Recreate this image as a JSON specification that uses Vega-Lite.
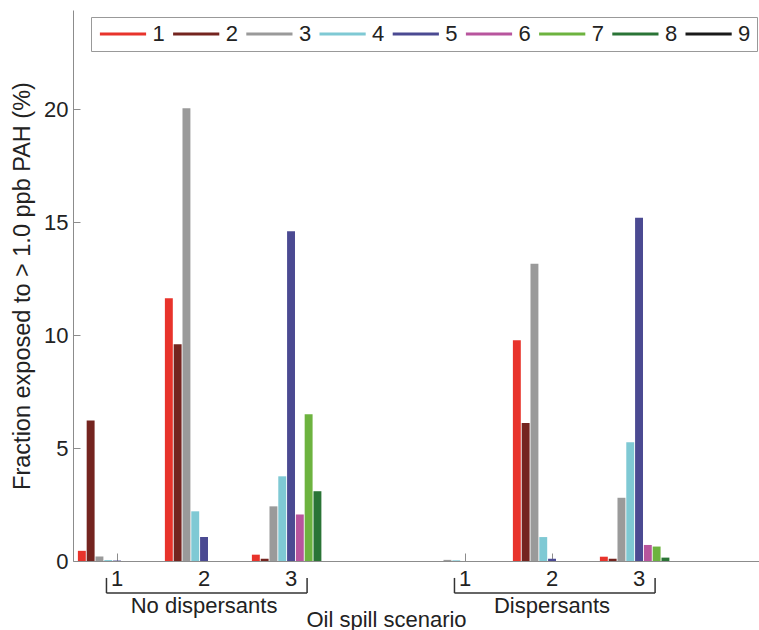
{
  "$schema": "https://vega.github.io/schema/vega-lite/v6.json",
  "width": 686,
  "height": 551,
  "autosize": {"type": "none"},
  "padding": {"left": 73, "top": 10, "right": 0, "bottom": 69},
  "config": {
    "view": {"stroke": null},
    "font": "Liberation Sans",
    "axis": {
      "domainColor": "#8c8c8c",
      "tickColor": "#8c8c8c",
      "labelColor": "#222222",
      "titleColor": "#222222",
      "labelFontSize": 22,
      "titleFontSize": 22,
      "titleFontWeight": "normal",
      "grid": false
    }
  },
  "datasets": {
    "bars": [
      {"slot": "N1", "series": "1", "value": 0.45},
      {"slot": "N1", "series": "2", "value": 6.22},
      {"slot": "N1", "series": "3", "value": 0.2},
      {"slot": "N1", "series": "4", "value": 0.04},
      {"slot": "N1", "series": "5", "value": 0.02},
      {"slot": "N1", "series": "6", "value": 0},
      {"slot": "N1", "series": "7", "value": 0},
      {"slot": "N1", "series": "8", "value": 0},
      {"slot": "N1", "series": "9", "value": 0},
      {"slot": "N2", "series": "1", "value": 11.63},
      {"slot": "N2", "series": "2", "value": 9.6},
      {"slot": "N2", "series": "3", "value": 20.05},
      {"slot": "N2", "series": "4", "value": 2.2},
      {"slot": "N2", "series": "5", "value": 1.06},
      {"slot": "N2", "series": "6", "value": 0},
      {"slot": "N2", "series": "7", "value": 0},
      {"slot": "N2", "series": "8", "value": 0},
      {"slot": "N2", "series": "9", "value": 0},
      {"slot": "N3", "series": "1", "value": 0.28},
      {"slot": "N3", "series": "2", "value": 0.1},
      {"slot": "N3", "series": "3", "value": 2.42},
      {"slot": "N3", "series": "4", "value": 3.75},
      {"slot": "N3", "series": "5", "value": 14.6},
      {"slot": "N3", "series": "6", "value": 2.06},
      {"slot": "N3", "series": "7", "value": 6.5},
      {"slot": "N3", "series": "8", "value": 3.09},
      {"slot": "N3", "series": "9", "value": 0},
      {"slot": "D1", "series": "1", "value": 0},
      {"slot": "D1", "series": "2", "value": 0},
      {"slot": "D1", "series": "3", "value": 0.05},
      {"slot": "D1", "series": "4", "value": 0.03},
      {"slot": "D1", "series": "5", "value": 0},
      {"slot": "D1", "series": "6", "value": 0},
      {"slot": "D1", "series": "7", "value": 0},
      {"slot": "D1", "series": "8", "value": 0},
      {"slot": "D1", "series": "9", "value": 0},
      {"slot": "D2", "series": "1", "value": 9.77},
      {"slot": "D2", "series": "2", "value": 6.11},
      {"slot": "D2", "series": "3", "value": 13.16},
      {"slot": "D2", "series": "4", "value": 1.06},
      {"slot": "D2", "series": "5", "value": 0.1},
      {"slot": "D2", "series": "6", "value": 0},
      {"slot": "D2", "series": "7", "value": 0},
      {"slot": "D2", "series": "8", "value": 0},
      {"slot": "D2", "series": "9", "value": 0},
      {"slot": "D3", "series": "1", "value": 0.19},
      {"slot": "D3", "series": "2", "value": 0.1},
      {"slot": "D3", "series": "3", "value": 2.8},
      {"slot": "D3", "series": "4", "value": 5.26},
      {"slot": "D3", "series": "5", "value": 15.2},
      {"slot": "D3", "series": "6", "value": 0.71},
      {"slot": "D3", "series": "7", "value": 0.64},
      {"slot": "D3", "series": "8", "value": 0.15},
      {"slot": "D3", "series": "9", "value": 0}
    ],
    "brackets": [
      {"label": "No dispersants", "from": "N1", "mid": "N2", "to": "N3"},
      {"label": "Dispersants", "from": "D1", "mid": "D2", "to": "D3"}
    ]
  },
  "layer": [
    {
      "data": {"name": "bars"},
      "mark": {"type": "bar"},
      "encoding": {
        "x": {
          "field": "slot",
          "type": "nominal",
          "sort": null,
          "scale": {
            "type": "band",
            "domain": ["N1", "N2", "N3", "gap", "D1", "D2", "D3"],
            "paddingInner": 0.1,
            "paddingOuter": 0.4925,
            "align": 0.057
          },
          "axis": {
            "values": ["N1", "N2", "N3", "D1", "D2", "D3"],
            "labelExpr": "substring(datum.value, 1)",
            "labelAngle": 0,
            "tickSize": -8,
            "labelPadding": 15,
            "title": "Oil spill scenario",
            "titleX": 313,
            "titleY": 65,
            "titleAlign": "center",
            "titleBaseline": "alphabetic"
          }
        },
        "xOffset": {
          "field": "series",
          "type": "nominal",
          "scale": {
            "domain": ["1", "2", "3", "4", "5", "6", "7", "8", "9"],
            "paddingInner": 0.1,
            "paddingOuter": 0
          }
        },
        "y": {
          "field": "value",
          "type": "quantitative",
          "scale": {"domain": [0, 24.4], "nice": false},
          "axis": {
            "values": [0, 5, 10, 15, 20],
            "tickSize": -7,
            "labelPadding": 12,
            "title": "Fraction exposed to > 1.0 ppb PAH (%)",
            "titleFontSize": 23.5,
            "titleX": -51,
            "titleY": 275.5,
            "titleAngle": 270,
            "titleAlign": "center",
            "titleBaseline": "middle"
          }
        },
        "color": {
          "field": "series",
          "type": "nominal",
          "scale": {
            "domain": ["1", "2", "3", "4", "5", "6", "7", "8", "9"],
            "range": ["#e8332b", "#74241f", "#9a9a9a", "#7fc9d4", "#4b4a92", "#b8559d", "#6db33f", "#2a7436", "#1a1a1a"]
          },
          "legend": {
            "orient": "none",
            "legendX": 18,
            "legendY": 7,
            "direction": "horizontal",
            "columns": 9,
            "title": null,
            "symbolType": "M-3.3,0H3.3",
            "symbolSize": 196,
            "symbolStrokeWidth": 3,
            "symbolOffset": 15,
            "labelFontSize": 22,
            "labelColor": "#222222",
            "labelOffset": 18.5,
            "columnPadding": 1.2,
            "rowPadding": 0,
            "padding": 6,
            "strokeColor": "#999999",
            "fillColor": "white",
            "encode": {
              "symbols": {
                "update": {
                  "stroke": {"scale": "color", "field": "value"},
                  "fill": {"value": "transparent"}
                }
              }
            }
          }
        }
      }
    },
    {
      "data": {"name": "brackets"},
      "mark": {"type": "rule", "color": "#333333", "strokeWidth": 1.5},
      "encoding": {
        "x": {"field": "from", "type": "nominal", "bandPosition": 0.365},
        "x2": {"field": "to", "bandPosition": 0.705},
        "y": {"datum": -1.42, "type": "quantitative"}
      }
    },
    {
      "data": {"name": "brackets"},
      "mark": {"type": "rule", "color": "#333333", "strokeWidth": 1.5},
      "encoding": {
        "x": {"field": "from", "type": "nominal", "bandPosition": 0.365},
        "y": {"datum": -0.75, "type": "quantitative"},
        "y2": {"datum": -1.42}
      }
    },
    {
      "data": {"name": "brackets"},
      "mark": {"type": "rule", "color": "#333333", "strokeWidth": 1.5},
      "encoding": {
        "x": {"field": "to", "type": "nominal", "bandPosition": 0.705},
        "y": {"datum": -0.75, "type": "quantitative"},
        "y2": {"datum": -1.42}
      }
    },
    {
      "data": {"name": "brackets"},
      "mark": {"type": "text", "fontSize": 22, "color": "#222222", "baseline": "alphabetic", "align": "center"},
      "encoding": {
        "x": {"field": "mid", "type": "nominal"},
        "y": {"datum": -2.3, "type": "quantitative"},
        "text": {"field": "label"}
      }
    }
  ]
}
